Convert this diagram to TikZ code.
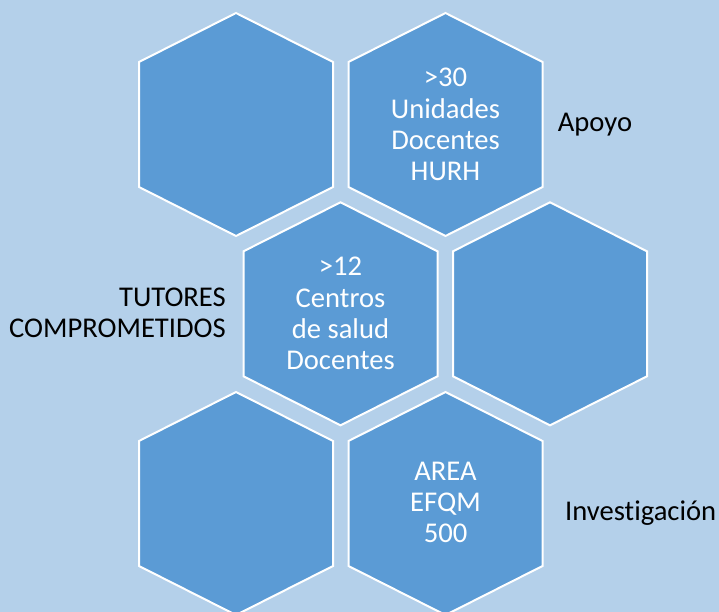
\documentclass[tikz,border=0pt]{standalone}
\usepackage{fontspec}
\setmainfont[Ligatures=NoCommon]{Carlito}
\definecolor{bgblue}{RGB}{180,208,234}
\definecolor{hexblue}{RGB}{91,155,213}
\begin{document}
\begin{tikzpicture}[x=1pt,y=-1pt,
  hexline/.style={fill=hexblue,draw=white,line width=2pt,line join=miter},
  hexpic/.pic={\path[hexline] (0,-111.5) -- (97,-62.5) -- (97,62.5) -- (0,111.5) -- (-97,62.5) -- (-97,-62.5) -- cycle;},
  hextext/.style={text=white,align=center,inner sep=0pt,font=\fontsize{28.6}{31.3}\selectfont},
  sidelabel/.style={text=black,inner sep=0pt,font=\fontsize{28.6}{30.5}\selectfont}]
\path[use as bounding box,fill=bgblue] (0,0) rectangle (719,612);
\begin{scope}
\clip (0,0) rectangle (719,612);
\pic at (236,124.5) {hexpic};
\pic at (445.5,124.5) {hexpic};
\pic at (340.5,313.8) {hexpic};
\pic at (550,313.8) {hexpic};
\pic at (236,503.5) {hexpic};
\pic at (445.5,503.5) {hexpic};
\end{scope}
\node[hextext] (hb) at (445.5,124.5) {>30\\Unidades\\Docentes\\HURH};
\node[hextext] (hc) at (340.5,313.5) {>12\\Centros\\de salud\\Docentes};
\node[hextext] (hf) at (445.5,502.5) {AREA\\EFQM\\500};
\node[sidelabel,anchor=base west] (apoyo) at (557.7,132) {Apoyo};
\node[sidelabel,anchor=east,align=right] (tutores) at (226,312.7) {TUTORES\\COMPROMETIDOS};
\node[sidelabel,anchor=base west] (inv) at (565,520) {Investigación};
\end{tikzpicture}
\end{document}
